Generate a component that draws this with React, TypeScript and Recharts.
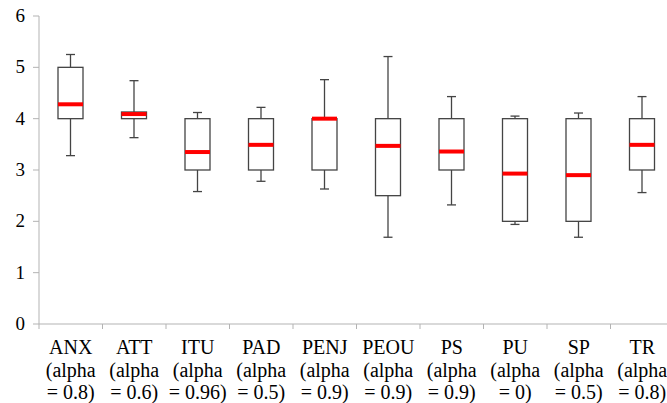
import React from 'react';
import { ComposedChart, Bar, XAxis, YAxis } from 'recharts';

// box plot stats
const categories = ['ANX', 'ATT', 'ITU', 'PAD', 'PENJ', 'PEOU', 'PS', 'PU', 'SP', 'TR'];
const alphas = ['0.8', '0.6', '0.96', '0.5', '0.9', '0.9', '0.9', '0', '0.5', '0.8'];
const whiskerLow = [3.28, 3.63, 2.58, 2.78, 2.63, 1.69, 2.32, 1.94, 1.69, 2.56];
const q1 = [4, 4, 3, 3, 3, 2.5, 3, 2, 2, 3];
const median = [4.28, 4.09, 3.35, 3.49, 4.0, 3.47, 3.36, 2.93, 2.9, 3.49];
const q3 = [5, 4.13, 4, 4, 4, 4, 4, 4, 4, 4];
const whiskerHigh = [5.25, 4.74, 4.12, 4.22, 4.76, 5.21, 4.43, 4.05, 4.11, 4.43];
const yTicks = [0, 1, 2, 3, 4, 5, 6];

const data = categories.map((name, i) => ({
  name,
  alpha: alphas[i],
  range: [whiskerLow[i], whiskerHigh[i]],
  q1: q1[i],
  median: median[i],
  q3: q3[i],
}));

const CHART_W = 680;
const CHART_H = 403;
const Y_AXIS_W = 39;
const MARGIN_RIGHT = 6;
const BAND = (CHART_W - Y_AXIS_W - MARGIN_RIGHT) / categories.length;
const AXIS_GREY = '#b3b3b3';
const FONT = 'Liberation Serif, Times New Roman, serif';

const BoxShape = (props: any) => {
  const { x, y, width, height, payload } = props;
  if (!payload) return null;
  const [lo, hi] = payload.range;
  // map a value to pixels using the bar's own scaled extent
  const py = (v: number) => y + ((hi - v) / (hi - lo)) * height;
  const cx = x + width / 2;
  const cap = 4.5;
  const stroke = '#444444';
  return (
    <g>
      <line x1={cx} x2={cx} y1={py(hi)} y2={py(payload.q3)} stroke={stroke} strokeWidth={1.3} />
      <line x1={cx} x2={cx} y1={py(payload.q1)} y2={py(lo)} stroke={stroke} strokeWidth={1.3} />
      <line x1={cx - cap} x2={cx + cap} y1={py(hi)} y2={py(hi)} stroke={stroke} strokeWidth={1.3} />
      <line x1={cx - cap} x2={cx + cap} y1={py(lo)} y2={py(lo)} stroke={stroke} strokeWidth={1.3} />
      <rect
        x={x}
        y={py(payload.q3)}
        width={width}
        height={py(payload.q1) - py(payload.q3)}
        fill="#ffffff"
        stroke={stroke}
        strokeWidth={1.3}
      />
      <line x1={x} x2={x + width} y1={py(payload.median)} y2={py(payload.median)} stroke="#ff0000" strokeWidth={4} />
    </g>
  );
};

const XTick = (props: any) => {
  const { x, y, payload, index } = props;
  const item = data[index] || data.find((d) => d.name === payload.value);
  return (
    <g>
      {index === 0 && <line x1={x - BAND / 2} x2={x - BAND / 2} y1={y} y2={y + 5} stroke={AXIS_GREY} />}
      <line x1={x + BAND / 2} x2={x + BAND / 2} y1={y} y2={y + 5} stroke={AXIS_GREY} />
      <text x={x} y={y + 30} textAnchor="middle" fill="#000" style={{ fontFamily: FONT, fontSize: 20 }}>
        <tspan x={x} dy={0}>{payload.value}</tspan>
        <tspan x={x} dy={22.5}>(alpha</tspan>
        <tspan x={x} dy={22.5}>{`= ${item ? item.alpha : ''})`}</tspan>
      </text>
    </g>
  );
};

const YTick = (props: any) => {
  const { x, y, payload } = props;
  return (
    <text x={x} y={y} dy={6} textAnchor="end" fill="#000" style={{ fontFamily: FONT, fontSize: 19 }}>
      {payload.value}
    </text>
  );
};

export default function App() {
  return (
    <div style={{ position: 'absolute', left: 0, top: 0, width: 667, height: 403, overflow: 'hidden', background: '#fff' }}>
      <ComposedChart
        width={CHART_W}
        height={CHART_H}
        data={data}
        margin={{ top: 16, right: MARGIN_RIGHT, left: 0, bottom: 0 }}
        barCategoryGap={0}
      >
        <XAxis
          dataKey="name"
          axisLine={{ stroke: AXIS_GREY }}
          tickLine={false}
          tickSize={0}
          tickMargin={0}
          tick={<XTick />}
          interval={0}
          height={79}
        />
        <YAxis
          domain={[0, 6]}
          ticks={yTicks}
          width={Y_AXIS_W}
          axisLine={{ stroke: AXIS_GREY }}
          tickLine={{ stroke: AXIS_GREY }}
          tickSize={6}
          tickMargin={8}
          tick={<YTick />}
        />
        <Bar dataKey="range" barSize={25} shape={<BoxShape />} isAnimationActive={false} />
      </ComposedChart>
    </div>
  );
}
